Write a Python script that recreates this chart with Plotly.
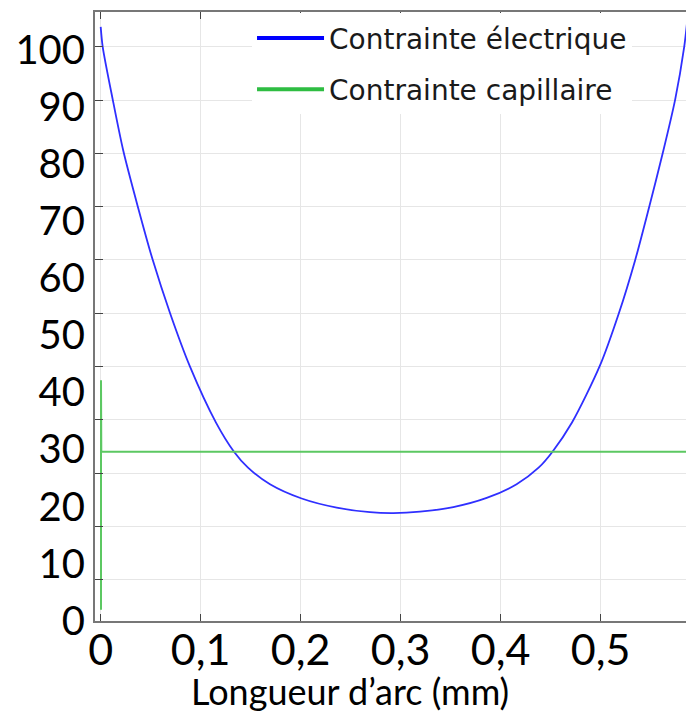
import plotly.graph_objects as go

# ---- data ----
arc_electric = [0.0, 0.002, 0.012, 0.0226, 0.037, 0.052, 0.0693, 0.0893, 0.1153,
                0.1333, 0.1473, 0.1693, 0.201, 0.236, 0.2693, 0.2926, 0.3193, 0.3526,
                0.386, 0.4159, 0.4379, 0.4518, 0.4713, 0.4993, 0.518, 0.5343,
                0.5486, 0.562, 0.5745, 0.5835, 0.5862]
stress_electric = [104.0, 100.5, 91.3, 82.3, 72.6, 63.2, 53.9, 44.5, 34.7,
                   29.6, 26.8, 23.9, 21.4, 19.8, 19.0, 18.85, 19.1, 19.9,
                   21.5, 23.9, 26.8, 29.6, 34.7, 44.7, 53.75, 63.05,
                   72.55, 81.85, 91.3, 100.5, 104.5]

arc_capillary = [0.0003, 0.0003, 0.0004, 0.0006, 0.0015, 0.3, 0.6]
stress_capillary = [1.9, 42.1, 26.7, 29.6, 29.6, 29.6, 29.6]

x_tick_vals = [0, 0.1, 0.2, 0.3, 0.4, 0.5]
x_tick_text = ["0", "0,1", "0,2", "0,3", "0,4", "0,5"]
y_tick_vals = [0, 10, 20, 30, 40, 50, 60, 70, 80, 90, 100]
y_tick_text = ["0", "10", "20", "30", "40", "50", "60", "70", "80", "90", "100"]

names = ["Contrainte électrique", "Contrainte capillaire"]
x_title = "Longueur d’arc (mm)"

fig = go.Figure()
fig.add_trace(go.Scatter(x=arc_electric, y=stress_electric, mode="lines",
                         line=dict(color="#2f2fff", width=1.8, shape="spline", smoothing=0.8),
                         showlegend=False, hoverinfo="skip"))
fig.add_trace(go.Scatter(x=arc_capillary, y=stress_capillary, mode="lines",
                         line=dict(color="#5cc862", width=2), showlegend=False,
                         hoverinfo="skip"))
# legend entries
fig.add_trace(go.Scatter(x=[None], y=[None], mode="lines", name=names[0],
                         legendgroup="a", line=dict(color="#0000ff", width=4)))
fig.add_trace(go.Scatter(x=[None], y=[None], mode="lines", name=names[1],
                         legendgroup="b", line=dict(color="#2ebd42", width=4)))

fig.update_layout(
    width=686, height=714,
    margin=dict(l=95, r=0, t=12, b=93),
    plot_bgcolor="white", paper_bgcolor="white",
    legend=dict(x=0.2657, y=0.998, xanchor="left", yanchor="top",
                bgcolor="white", borderwidth=0,
                font=dict(family="DejaVu Sans", size=28, color="#1a1a1a"),
                itemwidth=67, tracegroupgap=12, traceorder="grouped"),
    xaxis=dict(range=[-0.0057, 0.5853], tickvals=x_tick_vals, ticktext=x_tick_text,
               ticks="inside", ticklen=7, tickcolor="#444", mirror="ticks",
               showline=True, linecolor="#777", linewidth=2,
               showgrid=True, gridcolor="#e6e6e6", gridwidth=1, zeroline=False,
               ticklabelstandoff=-10,
               tickfont=dict(family="Lato", size=43, color="black")),
    yaxis=dict(range=[-0.05, 106.6], tickvals=y_tick_vals, ticktext=y_tick_text,
               ticks="", showgrid=False, zeroline=False,
               showline=True, linecolor="#777", linewidth=2,
               tickfont=dict(family="Lato", size=40, color="black"),
               minor=dict(tick0=7.15, dtick=9.337, ticks="inside", ticklen=8,
                          tickcolor="#444", showgrid=True, gridcolor="#e6e6e6",
                          gridwidth=1)),
    annotations=[dict(text=x_title, xref="paper", yref="paper", x=0.431, y=-0.115,
                      xanchor="center", yanchor="middle", showarrow=False,
                      font=dict(family="Lato", size=36, color="black"))],
)

fig.write_html("out.html")
